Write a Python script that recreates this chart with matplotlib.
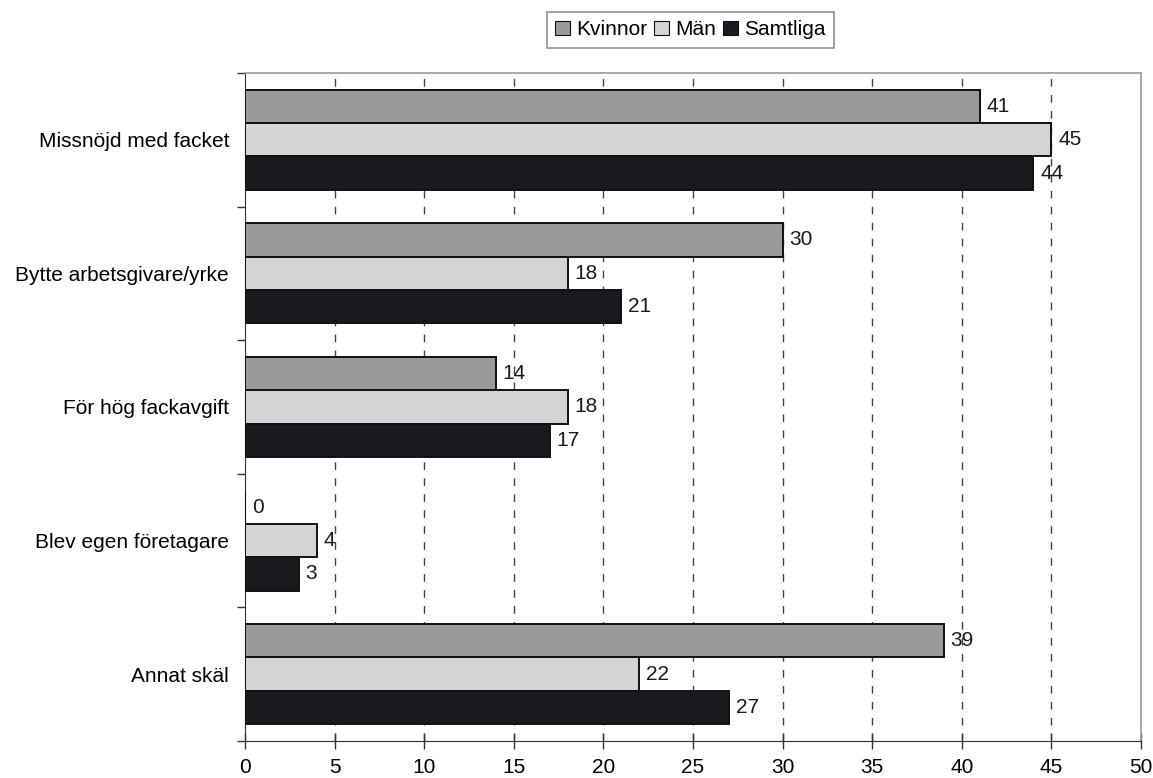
import matplotlib
matplotlib.use("Agg")
import matplotlib.pyplot as plt
import numpy as np

plt.rcParams['font.family'] = ['Liberation Sans', 'DejaVu Sans']

categories = ["Missnöjd med facket", "Bytte arbetsgivare/yrke", "För hög fackavgift",
              "Blev egen företagare", "Annat skäl"]
series_names = ["Kvinnor", "Män", "Samtliga"]
kvinnor = [41, 30, 14, 0, 39]
man = [45, 18, 18, 4, 22]
samtliga = [44, 21, 17, 3, 27]
x_ticks = [0, 5, 10, 15, 20, 25, 30, 35, 40, 45, 50]

values = [kvinnor, man, samtliga]
colors = ["#9a9a9a", "#d4d4d4", "#1b191d"]
FS = 15

fig = plt.figure(figsize=(11.53, 7.78), dpi=100)
ax = fig.add_axes([0.2125, 0.0476, 0.777, 0.8586])

n = len(categories)
bar_h = 0.25
centers = np.arange(n)
for i, (name, vals, col) in enumerate(zip(series_names, values, colors)):
    ys = centers + (i - 1) * bar_h
    ax.barh(ys, vals, height=bar_h, color=col, edgecolor="#111111", linewidth=1.4,
            label=name, zorder=3)
    for y, v in zip(ys, vals):
        ax.annotate(f"{v}", xy=(v, y), xytext=(5, 0), textcoords="offset points",
                    va="center", ha="left", fontsize=FS, color="#1a1a1a", zorder=4)

ax.set_xlim(0, 50)
ax.set_ylim(n - 0.5, -0.5)
ax.set_xticks(x_ticks)
ax.set_xticklabels([str(t) for t in x_ticks], fontsize=FS)
ax.tick_params(axis="x", direction="inout", length=12, width=1, color="#333333", pad=6)

# category labels on minor ticks at centers, tick marks at boundaries
ax.set_yticks(np.arange(n + 1) - 0.5)
ax.set_yticklabels([])
ax.tick_params(axis="y", which="major", direction="out", length=6, width=1, color="#333333")
ax.set_yticks(centers, minor=True)
ax.set_yticklabels(categories, minor=True, fontsize=FS)
ax.tick_params(axis="y", which="minor", length=0, pad=11.5)

for t in x_ticks[1:-1]:
    ax.axvline(t, color="#444444", linestyle=(0, (5.5, 6)), linewidth=1.0, zorder=1)

for side in ["top", "right"]:
    ax.spines[side].set_color("#9a9a9a")
    ax.spines[side].set_linewidth(1.2)
ax.spines["left"].set_color("#333333")
ax.spines["bottom"].set_color("#333333")

leg = fig.legend(loc="upper right", bbox_to_anchor=(834 / 1153, 1 - 12 / 778), ncol=3,
                 fontsize=FS, frameon=True, fancybox=False, handlelength=0.7,
                 handleheight=0.7, handletextpad=0.3, columnspacing=0.35,
                 borderpad=0.4, borderaxespad=0, edgecolor="#777777")
leg.get_frame().set_linewidth(1.2)
for h in leg.legend_handles:
    h.set_linewidth(0.8)

fig.savefig("out.png", dpi=100)
